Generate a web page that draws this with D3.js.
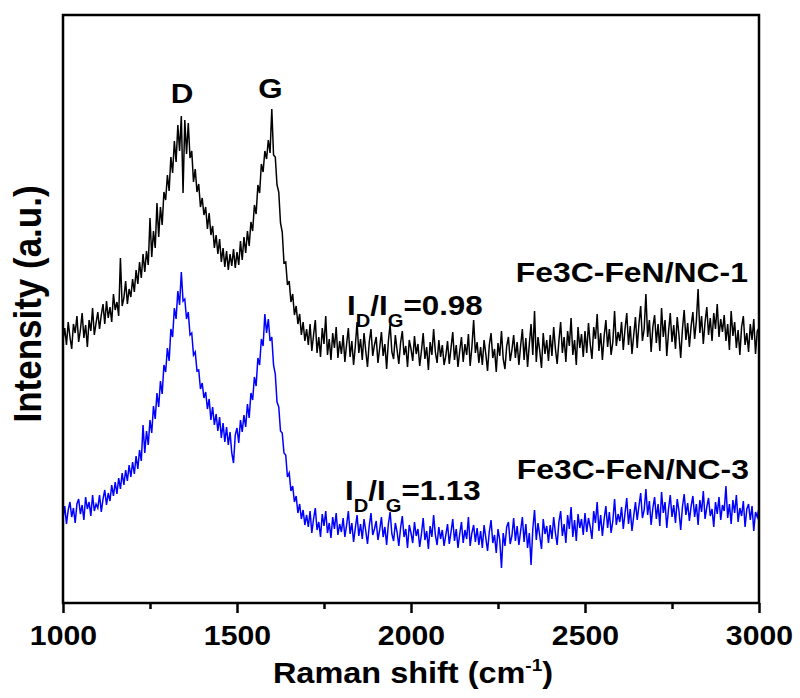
<!DOCTYPE html>
<html>
<head>
<meta charset="utf-8">
<script src="https://cdn.jsdelivr.net/npm/d3@7"></script>
<style>
  body { margin: 0; background: #fff; }
  svg { display: block; }
  text { font-family: Arial, "Liberation Sans", sans-serif; font-weight: bold; fill: #000; }
</style>
</head>
<body>
<svg id="chart" width="800" height="698"></svg>
<script>
// spectra are sampled every 5 cm-1 from 1000 to 3000 cm-1 (401 readings each)
const shiftStart = 1000;
const shiftStep = 5;

// Fe3C-FeN/NC-1 (black), one row = 100 cm-1
const nc1Intensity = [
  262,275,258,281,266,254,279,270,287,261,273,290,265,278,256,283,272,295,268,280, // 1000
  291,274,288,299,279,302,285,296,281,309,293,301,287,345,297,305,322,299,314,306, // 1100
  324,311,333,319,341,325,349,331,352,338,385,346,372,355,400,366,396,378,411,403, // 1200
  428,412,446,430,462,441,478,452,487,410,483,449,480,445,452,421,434,411,419,396, // 1300
  405,388,396,374,390,368,377,355,368,349,364,341,355,336,352,333,349,337,354,335, // 1400
  351,338,362,343,366,350,372,357,381,372,398,389,418,410,439,431,452,444,463,450, // 1500
  494,448,446,418,411,380,371,340,341,318,322,301,309,288,297,279,289,268,281,262, // 1600
  274,258,279,252,268,283,250,266,246,275,259,287,248,264,243,270,255,276,245,262, // 1700
  249,268,241,259,275,246,262,238,257,281,250,264,243,270,252,236,261,274,247,258, // 1800
  266,240,255,271,247,259,234,262,279,251,244,268,253,239,260,272,248,257,236,263, // 1900
  254,242,267,249,259,237,252,270,244,256,233,261,248,274,251,240,263,246,258,238, // 2000
  247,262,239,255,271,243,258,236,252,266,241,259,248,269,237,256,283,250,261,240, // 2100
  256,238,263,249,232,258,270,245,254,231,260,247,272,244,234,257,266,242,253,268, // 2200
  245,261,238,257,274,243,265,236,259,279,248,292,241,266,252,235,270,249,263,242, // 2300
  268,247,276,254,239,262,281,250,266,241,272,257,285,248,263,238,276,255,269,246, // 2400
  272,250,280,259,244,276,264,289,252,270,243,267,283,256,274,248,261,292,257,271, // 2500
  262,281,253,274,290,258,277,249,268,286,255,279,297,262,274,309,266,283,251,276, // 2600
  288,260,279,252,295,266,283,247,271,290,261,278,254,286,268,245,274,293,263,280, // 2700
  256,277,291,264,282,314,270,287,259,281,296,268,285,262,290,274,299,266,284,271, // 2800
  288,262,279,253,292,267,281,255,273,248,276,287,258,270,251,279,263,284,249,272, // 2900
  275
];

// Fe3C-FeN/NC-3 (blue)
const nc3Intensity = [
  84,97,79,93,101,86,95,80,99,104,89,98,83,106,94,101,87,108,92,99, // 1000
  95,108,91,104,113,98,110,102,118,107,121,109,125,114,130,118,133,122,138,126, // 1100
  141,129,147,134,153,142,178,150,172,158,183,170,197,184,210,196,222,209,238,231, // 1200
  255,242,274,266,295,284,312,298,331,302,304,284,291,268,270,248,251,232,233,214, // 1300
  220,205,211,194,204,183,196,178,189,172,186,165,180,161,176,158,171,150,140,168, // 1400
  175,160,183,171,188,176,199,185,210,203,226,217,245,238,264,257,289,270,284,262, // 1500
  266,238,229,201,196,172,170,150,148,126,130,112,117,101,107,90,99,84,93,78, // 1600
  88,76,92,70,84,95,73,81,66,89,77,92,70,80,65,86,74,90,68,79, // 1700
  71,85,66,78,92,69,80,61,75,88,67,79,64,84,72,59,77,90,68,74, // 1800
  82,63,73,86,66,76,58,79,91,69,62,80,71,57,75,87,66,74,55,78, // 1900
  70,60,81,67,74,56,69,85,63,72,54,77,66,88,68,58,76,64,73,57, // 2000
  68,79,59,71,84,62,74,55,69,81,60,73,64,86,57,70,78,61,75,58, // 2100
  72,55,78,65,52,71,83,60,68,50,74,63,35,70,57,76,81,59,67,85, // 2200
  62,77,58,72,86,61,79,55,70,38,74,93,63,80,67,54,84,69,77,60, // 2300
  78,64,86,70,58,81,92,67,79,60,88,74,96,66,83,62,89,75,84,68, // 2400
  90,71,85,76,64,92,80,101,72,88,67,84,97,75,91,70,82,104,78,89, // 2500
  81,96,74,90,105,79,94,72,87,101,83,97,110,85,93,114,88,102,78,95, // 2600
  106,84,99,77,111,90,101,75,94,108,86,98,80,104,92,73,96,109,88,100, // 2700
  82,97,107,86,99,78,103,91,112,84,96,105,87,94,76,101,89,106,83,98, // 2800
  92,117,85,99,79,103,90,108,81,95,87,102,76,94,99,83,97,72,91,86, // 2900
  95
];

const majorTicks = [1000, 1500, 2000, 2500, 3000];
const minorTicks = [1250, 1750, 2250, 2750];
const peakNames = ["D", "G"];
const peakShifts = [1342, 1596];
const sampleNames = ["Fe3C-FeN/NC-1", "Fe3C-FeN/NC-3"];
const ratios = ["0.98", "1.13"];

const margin = {top: 15, right: 41, bottom: 95, left: 63};
const width = 800 - margin.left - margin.right;
const height = 698 - margin.top - margin.bottom;
const sx = 1.12; // the original figure is a bit wider than tall

const svg = d3.select("#chart");

const x = d3.scaleLinear().domain([1000, 3000]).range([margin.left, margin.left + width]);
const y = d3.scaleLinear().domain([0, 588]).range([margin.top + height, margin.top]);

svg.append("defs").append("clipPath").attr("id", "plot")
  .append("rect")
  .attr("x", margin.left).attr("y", margin.top)
  .attr("width", width).attr("height", height);

const line = d3.line()
  .x((d, i) => x(shiftStart + i * shiftStep))
  .y(d => y(d));

const traces = svg.append("g").attr("clip-path", "url(#plot)");
traces.append("path").datum(nc1Intensity)
  .attr("d", line).attr("fill", "none").attr("stroke", "#000").attr("stroke-width", 1.5);
traces.append("path").datum(nc3Intensity)
  .attr("d", line).attr("fill", "none").attr("stroke", "#0000ff").attr("stroke-width", 1.5);

// frame
svg.append("rect")
  .attr("x", margin.left).attr("y", margin.top)
  .attr("width", width).attr("height", height)
  .attr("fill", "none").attr("stroke", "#000").attr("stroke-width", 2.5);

// x axis
const axis = svg.append("g")
  .attr("transform", "translate(0," + (margin.top + height) + ")")
  .call(d3.axisBottom(x).tickValues(majorTicks).tickSize(10).tickSizeOuter(0).tickFormat(d3.format("d")));
axis.select(".domain").remove();
axis.selectAll(".tick line").attr("stroke-width", 2.5);
axis.selectAll(".tick text")
  .attr("y", 42).attr("dy", null)
  .attr("transform", "scale(" + sx + ",1)")
  .style("font-size", "27px");

const minor = svg.append("g")
  .attr("transform", "translate(0," + (margin.top + height) + ")")
  .call(d3.axisBottom(x).tickValues(minorTicks).tickSize(6).tickSizeOuter(0).tickFormat(""));
minor.select(".domain").remove();
minor.selectAll(".tick line").attr("stroke-width", 2.5);

function label(px, py, size, anchor) {
  return svg.append("text")
    .attr("transform", "translate(" + px + "," + py + ") scale(" + sx + ",1)")
    .attr("text-anchor", anchor)
    .style("font-size", size + "px");
}

// axis titles
const xt = label(413, 683, 29, "middle");
xt.append("tspan").text("Raman shift (cm");
xt.append("tspan").attr("dy", -12).style("font-size", "17px").text("-1");
xt.append("tspan").attr("dy", 12).text(")");

svg.append("text")
  .attr("transform", "translate(41,304) rotate(-90) scale(1," + sx + ")")
  .attr("text-anchor", "middle")
  .style("font-size", "35px")
  .text("Intensity (a.u.)");

// peak names
label(x(peakShifts[0]), 103, 28, "middle").text(peakNames[0]);
label(x(peakShifts[1]), 98, 28, "middle").text(peakNames[1]);

// sample names
label(748, 282, 28.5, "end").text(sampleNames[0]);
label(749, 479, 28.5, "end").text(sampleNames[1]);

// ID/IG ratios
function ratio(px, py, value) {
  const t = label(px, py, 28, "start");
  t.append("tspan").text("I");
  t.append("tspan").attr("dy", 12).style("font-size", "18px").text("D");
  t.append("tspan").attr("dy", -12).text("/I");
  t.append("tspan").attr("dy", 12).style("font-size", "18px").text("G");
  t.append("tspan").attr("dy", -12).text("=" + value);
}
ratio(347, 315, ratios[0]);
ratio(345, 500, ratios[1]);
</script>
</body>
</html>
